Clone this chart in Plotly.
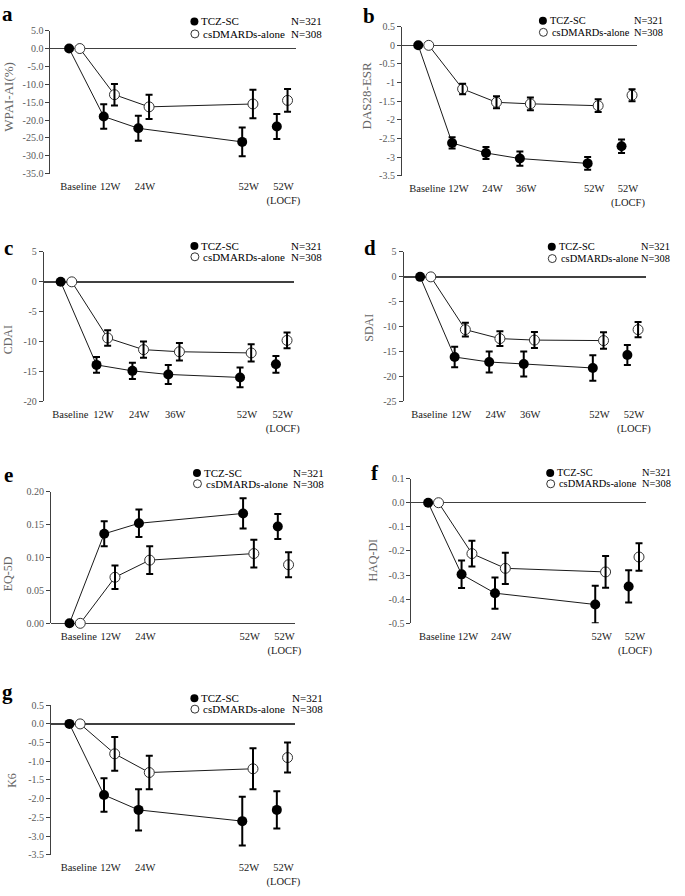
import plotly.graph_objects as go

W, H = 685, 896

# ---------------- data ----------------
visits5 = ["Baseline", "12W", "24W", "52W", "52W (LOCF)"]
visits6 = ["Baseline", "12W", "24W", "36W", "52W", "52W (LOCF)"]
series_names = ["TCZ-SC", "csDMARDs-alone"]
series_n = ["N=321", "N=308"]

# a: WPAI-AI(%)
wpai_tcz = [0, -19.0, -22.3, -26.1, -21.8]
wpai_tcz_err = [0, 3.4, 3.5, 4.0, 3.5]
wpai_csd = [0, -12.9, -16.3, -15.5, -14.5]
wpai_csd_err = [0, 3.0, 3.4, 4.0, 3.2]
wpai_ticks = [5, 0, -5, -10, -15, -20, -25, -30, -35]

# b: DAS28-ESR
das_tcz = [0, -2.62, -2.89, -3.04, -3.17, -2.71]
das_tcz_err = [0, 0.15, 0.16, 0.19, 0.17, 0.18]
das_csd = [0, -1.17, -1.53, -1.57, -1.62, -1.34]
das_csd_err = [0, 0.14, 0.16, 0.17, 0.17, 0.16]
das_ticks = [0.5, 0, -0.5, -1, -1.5, -2, -2.5, -3, -3.5]

# c: CDAI
cdai_tcz = [0, -13.9, -14.9, -15.5, -16.0, -13.8]
cdai_tcz_err = [0, 1.3, 1.35, 1.6, 1.65, 1.4]
cdai_csd = [0, -9.4, -11.35, -11.7, -11.9, -9.8]
cdai_csd_err = [0, 1.3, 1.35, 1.45, 1.45, 1.3]
cdai_ticks = [5, 0, -5, -10, -15, -20]

# d: SDAI
sdai_tcz = [0, -16.1, -17.1, -17.5, -18.3, -15.7]
sdai_tcz_err = [0, 2.05, 2.1, 2.5, 2.55, 2.0]
sdai_csd = [0, -10.6, -12.4, -12.7, -12.8, -10.6]
sdai_csd_err = [0, 1.4, 1.5, 1.6, 1.65, 1.55]
sdai_ticks = [5, 0, -5, -10, -15, -20, -25]

# e: EQ-5D
eq_tcz = [0, 0.136, 0.152, 0.167, 0.147]
eq_tcz_err = [0, 0.019, 0.021, 0.023, 0.019]
eq_csd = [0, 0.070, 0.096, 0.106, 0.089]
eq_csd_err = [0, 0.018, 0.021, 0.021, 0.019]
eq_ticks = [0.20, 0.15, 0.10, 0.05, 0.00]

# f: HAQ-DI
haq_tcz = [0, -0.297, -0.375, -0.422, -0.347]
haq_tcz_err = [0, 0.057, 0.065, 0.078, 0.067]
haq_csd = [0, -0.211, -0.272, -0.287, -0.225]
haq_csd_err = [0, 0.053, 0.065, 0.066, 0.057]
haq_ticks = [0.1, 0.0, -0.1, -0.2, -0.3, -0.4, -0.5]

# g: K6
k6_tcz = [0, -1.9, -2.3, -2.6, -2.3]
k6_tcz_err = [0, 0.45, 0.55, 0.65, 0.5]
k6_csd = [0, -0.8, -1.3, -1.2, -0.9]
k6_csd_err = [0, 0.45, 0.45, 0.55, 0.4]
k6_ticks = [0.5, 0.0, -0.5, -1.0, -1.5, -2.0, -2.5, -3.0, -3.5]

# ---------------- layout helpers ----------------
SLOT = {"Baseline": 0, "12W": 1, "24W": 2, "36W": 3, "52W": 5, "52W (LOCF)": 6}
CSD_OFF = 0.31
LABEL_OFF = {"Baseline": 0.27}
LABEL_OFF_DEFAULT = 0.19


def px(x):
    return x / W


def py(y):
    return 1 - y / H


panels = [
    dict(letter="a", title="WPAI-AI(%)", visits=visits5,
         tcz=wpai_tcz, tcz_err=wpai_tcz_err, csd=wpai_csd, csd_err=wpai_csd_err,
         ticks=wpai_ticks, fmt="{:.1f}",
         box=(51, 25, 299, 170), xr=(-0.54, 6.54),
         tpos=(9, 92), tsize=13, lpos=(0, 15), leg=(196.7, 15.7, 97.6, 12.6, 11)),
    dict(letter="b", title="DAS28-ESR", visits=visits6,
         tcz=das_tcz, tcz_err=das_tcz_err, csd=das_csd, csd_err=das_csd_err,
         ticks=das_ticks, fmt="{:g}",
         box=(406.7, 21, 645, 172), xr=(-0.48, 6.47),
         tpos=(371, 91), tsize=13, lpos=(365, 17), leg=(549.3, 15, 92.4, 11.7, 10.4)),
    dict(letter="c", title="CDAI", visits=visits6,
         tcz=cdai_tcz, tcz_err=cdai_tcz_err, csd=cdai_csd, csd_err=cdai_csd_err,
         ticks=cdai_ticks, fmt="{:g}",
         box=(44.3, 249.3, 297.7, 400.7), xr=(-0.47, 6.51),
         tpos=(9, 338), tsize=12, lpos=(2, 252), leg=(196.7, 243.3, 97.6, 10.9, 11)),
    dict(letter="d", title="SDAI", visits=visits6,
         tcz=sdai_tcz, tcz_err=sdai_tcz_err, csd=sdai_csd, csd_err=sdai_csd_err,
         ticks=sdai_ticks, fmt="{:g}",
         box=(408.3, 249.3, 653.3, 400.7), xr=(-0.48, 6.53),
         tpos=(372.5, 326), tsize=12, lpos=(366, 252), leg=(558.3, 244, 90.7, 12, 10.4)),
    dict(letter="e", title="EQ-5D", visits=visits5,
         tcz=eq_tcz, tcz_err=eq_tcz_err, csd=eq_csd, csd_err=eq_csd_err,
         ticks=eq_ticks, fmt="{:.2f}",
         box=(51.7, 492.3, 298.3, 625.7), xr=(-0.53, 6.49),
         tpos=(8, 575), tsize=12, lpos=(2, 482), leg=(199.3, 473.3, 97.4, 10.9, 11)),
    dict(letter="f", title="HAQ-DI", visits=visits5,
         tcz=haq_tcz, tcz_err=haq_tcz_err, csd=haq_csd, csd_err=haq_csd_err,
         ticks=haq_ticks, fmt="{:.1f}",
         box=(416.3, 479, 654, 625.7), xr=(-0.50, 6.53),
         tpos=(377.5, 562), tsize=12, lpos=(373, 480), leg=(556.7, 473.3, 93.3, 11, 10.4)),
    dict(letter="g", title="K6", visits=visits5,
         tcz=k6_tcz, tcz_err=k6_tcz_err, csd=k6_csd, csd_err=k6_csd_err,
         ticks=k6_ticks, fmt="{:.1f}",
         box=(51.7, 708.7, 298.3, 860.3), xr=(-0.53, 6.52),
         tpos=(12, 784.5), tsize=12, lpos=(0, 702), leg=(196.7, 701.7, 98.3, 11, 11)),
]

FONT = "Liberation Serif"
AXC = "#404040"
TICKC = "#595959"

fig = go.Figure()
annotations = []
shapes = []
layout = {}

for i, p in enumerate(panels, start=1):
    xa = "x" if i == 1 else f"x{i}"
    ya = "y" if i == 1 else f"y{i}"
    visits = p["visits"]
    main_v = visits[:-1]
    locf_v = visits[-1:]

    series = [
        (p["tcz"], p["tcz_err"], 0.0,
         dict(size=10, color="black", line=dict(width=0))),
        (p["csd"], p["csd_err"], CSD_OFF,
         dict(size=10, color="white", line=dict(width=1, color="#333333"))),
    ]
    for vals, err, off, mk in series:
        fig.add_trace(go.Scatter(
            x=[SLOT[v] + off for v in main_v], y=vals[:-1],
            mode="lines+markers", line=dict(color="#1a1a1a", width=1),
            marker=mk, xaxis=xa, yaxis=ya, cliponaxis=False, hoverinfo="skip"))
        fig.add_trace(go.Scatter(
            x=[SLOT[v] + off for v in locf_v], y=vals[-1:],
            mode="markers", marker=mk, xaxis=xa, yaxis=ya,
            cliponaxis=False, hoverinfo="skip"))
    for vals, err, off, mk in series:
        idx = [k for k, e in enumerate(err) if e > 0]
        fig.add_trace(go.Scatter(
            x=[SLOT[visits[k]] + off for k in idx], y=[vals[k] for k in idx],
            mode="markers", marker=dict(size=2, color="rgba(0,0,0,0)"),
            error_y=dict(type="data", array=[err[k] for k in idx],
                         color="black", thickness=2, width=3.5),
            xaxis=xa, yaxis=ya, cliponaxis=False, hoverinfo="skip"))

    x0, y0, x1, y1 = p["box"]
    ticks = p["ticks"]
    layout["xaxis" if i == 1 else f"xaxis{i}"] = dict(
        domain=[px(x0), px(x1)], range=list(p["xr"]), anchor=ya,
        showline=False, showgrid=False, zeroline=False,
        tickmode="array",
        tickvals=[SLOT[v] + LABEL_OFF.get(v, LABEL_OFF_DEFAULT) for v in visits],
        ticktext=[v.replace(" (", "<br>(") for v in visits],
        tickangle=0,
        ticks="outside", ticklen=3, tickcolor="rgba(0,0,0,0)",
        tickfont=dict(family=FONT, size=10.5, color="#1a1a1a"),
    )
    layout["yaxis" if i == 1 else f"yaxis{i}"] = dict(
        domain=[py(y1), py(y0)], range=[min(ticks), max(ticks)], anchor=xa,
        showline=True, linecolor=AXC, linewidth=1,
        ticks="outside", ticklen=4, tickcolor=AXC, tickwidth=1,
        tickmode="array", tickvals=ticks,
        ticktext=[p["fmt"].format(t) for t in ticks],
        tickfont=dict(family=FONT, size=10, color=TICKC),
        showgrid=False, zeroline=True, zerolinecolor=AXC, zerolinewidth=1.5,
    )

    tx, ty = p["tpos"]
    annotations.append(dict(
        text=p["title"], x=px(tx), y=py(ty), xref="paper", yref="paper",
        textangle=-90, showarrow=False, xanchor="center", yanchor="middle",
        font=dict(family=FONT, size=p["tsize"], color="#666666")))
    lx, ly = p["lpos"]
    annotations.append(dict(
        text=f"<b>{p['letter']}</b>", x=px(lx), y=py(ly - 6.5), xref="paper",
        yref="paper", showarrow=False, xanchor="left", yanchor="middle",
        font=dict(family=FONT, size=21, color="black")))
    cx, cy, noff, dy, lfs = p["leg"]
    for r in range(2):
        yy = cy + r * dy
        shapes.append(dict(
            type="circle", xref="paper", yref="paper",
            xsizemode="pixel", ysizemode="pixel",
            xanchor=px(cx + 0.5 * r), yanchor=py(yy),
            x0=-4, x1=4, y0=-4, y1=4,
            fillcolor="black" if r == 0 else "white",
            line=dict(color="#333333", width=1 if r else 0)))
        annotations.append(dict(
            text=series_names[r], x=px(cx + 6 + 2 * r), y=py(yy),
            xref="paper", yref="paper", showarrow=False,
            xanchor="left", yanchor="middle", borderpad=0,
            font=dict(family=FONT, size=lfs, color="black")))
        annotations.append(dict(
            text=series_n[r], x=px(cx + noff - 1), y=py(yy),
            xref="paper", yref="paper", showarrow=False,
            xanchor="left", yanchor="middle", borderpad=0,
            font=dict(family=FONT, size=lfs, color="black")))

fig.update_layout(
    width=W, height=H, margin=dict(l=0, r=0, t=0, b=0),
    paper_bgcolor="white", plot_bgcolor="white",
    showlegend=False, annotations=annotations, shapes=shapes,
    font=dict(family=FONT), **layout)

fig.write_html(
    "out.html",
    config={"displayModeBar": False, "staticPlot": True},
    post_script="document.body.style.margin='0';document.body.style.overflow='hidden';")
